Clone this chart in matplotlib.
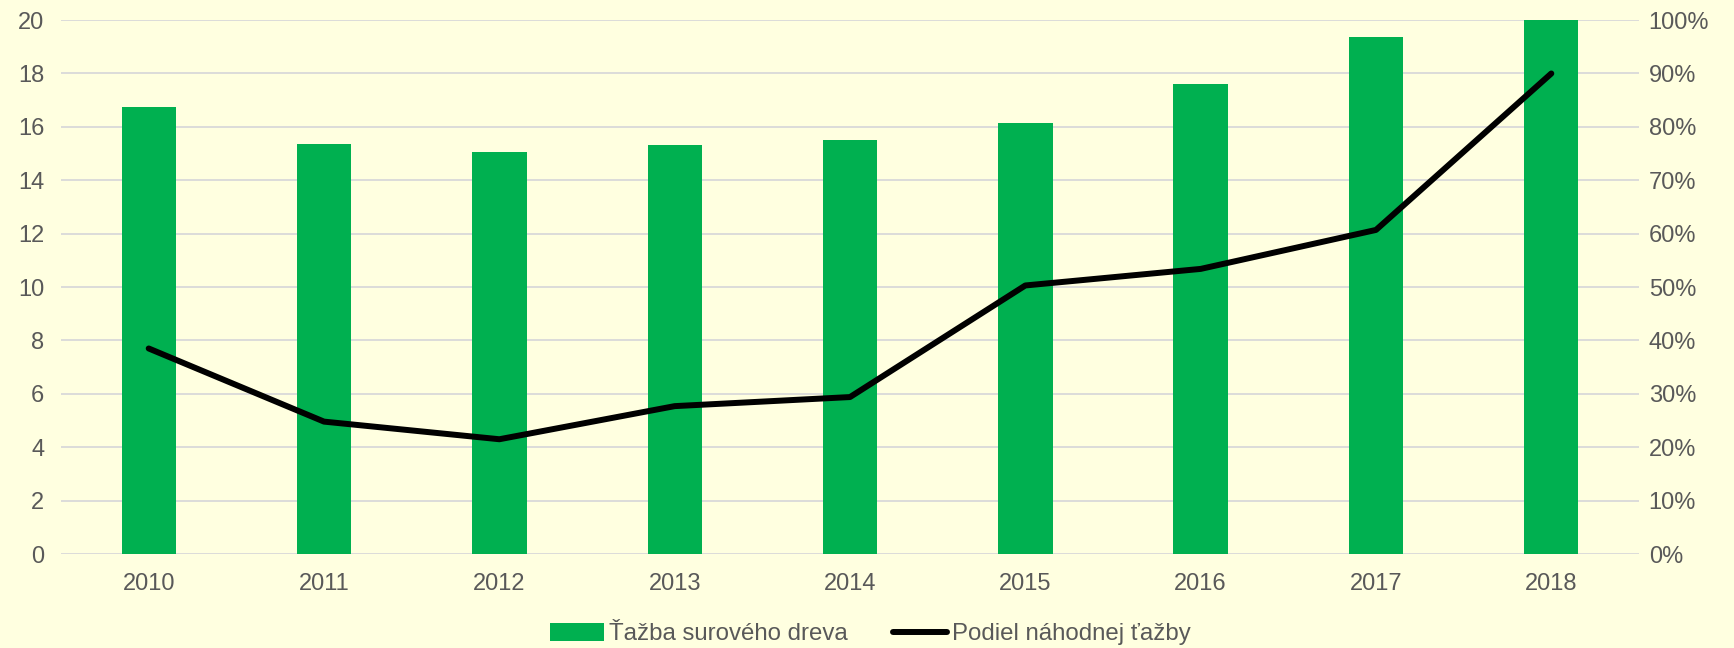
import numpy as np
import matplotlib.pyplot as plt
from matplotlib.ticker import FuncFormatter

plt.rcParams["font.family"] = ["Liberation Sans", "DejaVu Sans"]

years = ["2010", "2011", "2012", "2013", "2014", "2015", "2016", "2017", "2018"]
tazba = [16.73, 15.36, 15.07, 15.32, 15.49, 16.15, 17.6, 19.37, 20.0]
podiel = [38.5, 24.8, 21.5, 27.7, 29.4, 50.3, 53.4, 60.7, 90.0]

bg = "#FFFFE0"
green = "#00B050"
txt = "#595959"
grid = "#D9D9D9"

fig = plt.figure(figsize=(17.34, 6.48), dpi=100, facecolor=bg)
ax = fig.add_axes([0.0352, 0.145, 0.91, 0.824])
ax.set_facecolor(bg)
x = np.arange(len(years))

ax.bar(x, tazba, width=0.31, color=green, zorder=2, label="Ťažba surového dreva")
ax.set_ylim(0, 20)
ax.set_yticks(np.arange(0, 21, 2))
ax.set_xlim(-0.5, len(years) - 0.5)
ax.set_xticks(x)
ax.set_xticklabels(years)
ax.grid(axis="y", color=grid, linewidth=1.3, zorder=0)
ax.set_axisbelow(True)

ax1 = ax.twinx()
ax1.plot(x, podiel, color="black", linewidth=4.3, solid_capstyle="round",
         solid_joinstyle="round", label="Podiel náhodnej ťažby", zorder=3)
ax1.set_ylim(0, 100)
ax1.set_yticks(np.arange(0, 101, 10))
ax1.yaxis.set_major_formatter(FuncFormatter(lambda v, p: f"{v:.0f}%"))

for a in (ax, ax1):
    for s in a.spines.values():
        s.set_visible(False)
    a.tick_params(length=0, labelsize=17, labelcolor=txt)
ax.tick_params(axis="y", pad=12)
ax.tick_params(axis="x", pad=14)
ax1.tick_params(axis="y", pad=7)

h1, l1 = ax.get_legend_handles_labels()
h2, l2 = ax1.get_legend_handles_labels()
leg = fig.legend(h1 + h2, l1 + l2, loc="center", bbox_to_anchor=(0.502, 0.021),
                 ncol=2, frameon=False, fontsize=17.3, handlelength=2.25,
                 handleheight=0.75, handletextpad=0.2, columnspacing=1.9,
                 borderpad=0.1)
for t in leg.get_texts():
    t.set_color(txt)

fig.savefig("out.png", facecolor=bg)
